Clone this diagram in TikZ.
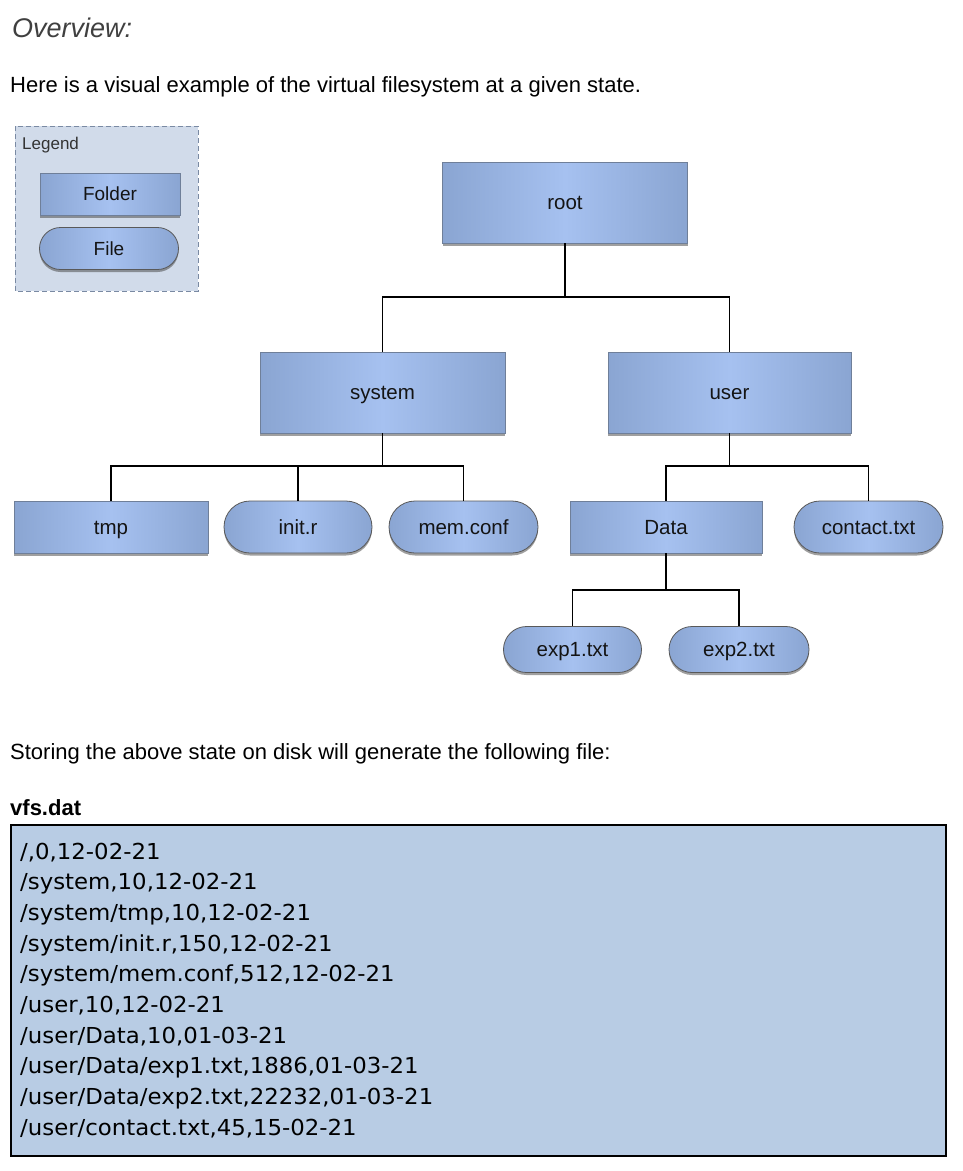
\documentclass[tikz,border=0pt]{standalone}
\usepackage{fontspec}
\usepackage{graphicx}
\setmainfont{Liberation Sans}
\newfontfamily\codefont{DejaVu Sans}
\usetikzlibrary{shadows,shapes.misc}
\definecolor{boxmid}{HTML}{A6C1F0}
\definecolor{boxedge}{HTML}{8AA5D2}
\definecolor{boxline}{HTML}{6F7F99}
\definecolor{legendfill}{HTML}{D1DBEA}
\definecolor{legendline}{HTML}{7A8AA3}
\definecolor{codefill}{HTML}{B8CCE4}
\definecolor{headgray}{HTML}{404040}
\newcommand\cx[1]{\scalebox{1.038}[1]{#1}}
\begin{document}
\begin{tikzpicture}[x=1pt,y=-1pt,
  nodetext/.style={font=\fontsize{20.5}{24}\selectfont, text=black!92, text height=14.7pt, text depth=0pt},
  folderbox/.style={rectangle, left color=boxedge, right color=boxedge, middle color=boxmid,
     draw=boxline, line width=0.5pt, inner sep=0pt, nodetext,
     drop shadow={shadow xshift=0pt, shadow yshift=-2.5pt, opacity=0.5, fill=black!75}},
  filebox/.style={folderbox, rounded rectangle, draw=black!65, line width=0.8pt},
  legendbox/.style={font=\fontsize{19}{22}\selectfont, text height=13.6pt},
  link/.style={draw=black, line width=1.3pt},
  body/.style={anchor=base west, inner sep=0pt, font=\fontsize{22}{26}\selectfont},
  codeline/.style={anchor=base west, inner sep=0pt, font=\codefont\fontsize{22}{26}\selectfont}
]
\useasboundingbox (0,0) rectangle (963,1171);
\fill[white] (0,0) rectangle (963,1171);

% header texts
\node[body, font=\itshape\fontsize{27}{30}\selectfont, text=headgray] (ov) at (12,37) {Overview:};
\node[body] (intro) at (10,92) {Here is a visual example of the virtual filesystem at a given state.};

% legend
\draw[legendline, fill=legendfill, dashed, dash pattern=on 5pt off 3pt, line width=1pt] (15,126) rectangle (198,291);
\node[anchor=base west, inner sep=0pt, font=\fontsize{17}{20}\selectfont, text=black!80] (leg) at (22,149) {Legend};
\node[folderbox, legendbox, minimum width=140pt, minimum height=42pt] (lfolder) at (110,194) {Folder};
\node[filebox, legendbox, minimum width=139pt, minimum height=42pt] (lfile) at (109,248.5) {File};

% tree
\node[folderbox, minimum width=245pt, minimum height=81pt] (root) at (565,202.5) {root};
\node[folderbox, minimum width=245pt, minimum height=81pt] (system) at (382.5,392.5) {system};
\node[folderbox, minimum width=243pt, minimum height=81pt] (user) at (729.5,392.5) {user};
\node[folderbox, minimum width=194pt, minimum height=52pt] (tmp) at (111,527) {tmp};
\node[filebox, minimum width=148pt, minimum height=52pt] (init) at (298,527) {init.r};
\node[filebox, minimum width=149pt, minimum height=52pt] (mem) at (463.5,527) {mem.conf};
\node[folderbox, minimum width=192pt, minimum height=52pt] (data) at (666,527) {Data};
\node[filebox, minimum width=149pt, minimum height=52pt] (contact) at (868.5,527) {contact.txt};
\node[filebox, minimum width=138pt, minimum height=46pt] (exp1) at (572.5,649.5) {exp1.txt};
\node[filebox, minimum width=140pt, minimum height=46pt] (exp2) at (739,649.5) {exp2.txt};

\coordinate (j1) at (565,297);
\coordinate (j2) at (382.5,466);
\coordinate (j3) at (729.5,466);
\coordinate (j4) at (666,590);

\draw[link] (root.south) -- (j1) -| (system.north);
\draw[link] (j1) -| (user.north);
\draw[link] (system.south) -- (j2) -| (tmp.north);
\draw[link] (j2) -| (init.north);
\draw[link] (j2) -| (mem.north);
\draw[link] (user.south) -- (j3) -| (data.north);
\draw[link] (j3) -| (contact.north);
\draw[link] (data.south) -- (j4) -| (exp1.north);
\draw[link] (j4) -| (exp2.north);

% file text
\node[body] (store) at (10,759) {Storing the above state on disk will generate the following file:};
\node[body, font=\bfseries\fontsize{22}{26}\selectfont] (vfs) at (10,815) {vfs.dat};
\draw[fill=codefill, draw=black, line width=2pt] (11,825) rectangle (946,1156);
\node[codeline] (l1) at (20,859) {\cx{/,0,12-02-21}};
\node[codeline] (l2) at (20,889.7) {\cx{/system,10,12-02-21}};
\node[codeline] (l3) at (20,920.3) {\cx{/system/tmp,10,12-02-21}};
\node[codeline] (l4) at (20,951) {\cx{/system/init.r,150,12-02-21}};
\node[codeline] (l5) at (20,981.7) {\cx{/system/mem.conf,512,12-02-21}};
\node[codeline] (l6) at (20,1012.3) {\cx{/user,10,12-02-21}};
\node[codeline] (l7) at (20,1043) {\cx{/user/Data,10,01-03-21}};
\node[codeline] (l8) at (20,1073.7) {\cx{/user/Data/exp1.txt,1886,01-03-21}};
\node[codeline] (l9) at (20,1104.3) {\cx{/user/Data/exp2.txt,22232,01-03-21}};
\node[codeline] (l10) at (20,1135) {\cx{/user/contact.txt,45,15-02-21}};
\end{tikzpicture}
\end{document}
